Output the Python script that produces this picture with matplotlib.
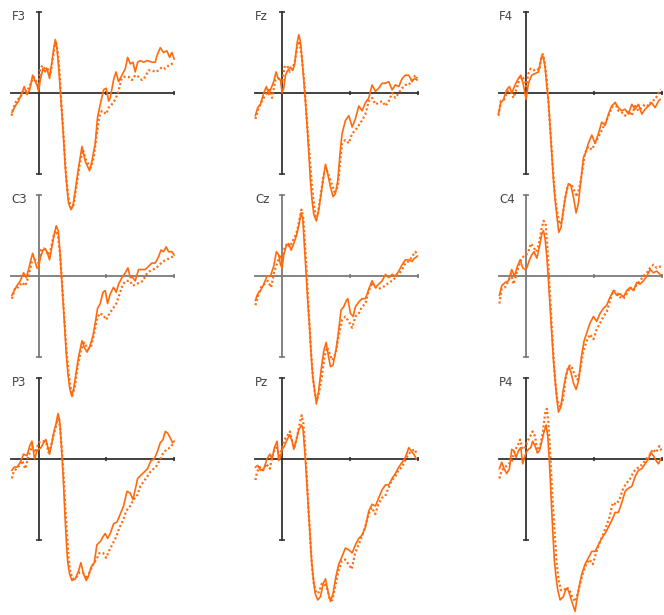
import numpy as np
import matplotlib.pyplot as plt

# ERP traces per channel: (time ms, amplitude uV), solid and dotted condition
f3_solid = [(-197,-1.2),(-172,-0.8),(-148,-0.5),(-123,0.0),(-106,0.4),(-86,-0.1),(-66,0.2),(-44,1.1),(-30,0.8),(-12,0.5),(0,0.1),(12,0.8),(32,1.5),(49,1.3),(62,1.5),(81,0.9),(98,1.9),(111,2.7),(123,3.3),(135,2.8),(148,1.6),(160,0.2),(172,-1.3),(185,-2.9),(197,-4.6),(209,-5.8),(221,-6.8),(239,-7.2),(253,-7.0),(271,-6.0),(295,-4.6),(320,-3.3),(344,-4.2),(376,-4.8),(394,-4.2),(418,-3.1),(435,-1.5),(455,-0.7),(480,0.2),(499,0.3),(517,-0.5),(529,-0.3),(553,0.8),(571,1.3),(590,0.7),(615,1.1),(640,1.5),(657,2.2),(677,1.8),(696,1.9),(713,1.3),(731,1.9),(750,2.0),(775,1.9),(800,2.0),(836,1.9),(861,1.9),(873,2.3),(898,2.8),(922,2.5),(947,2.6),(967,2.2),(984,2.5),(1000,2.1)]
f3_dotted = [(-200,-1.4),(-185,-0.9),(-160,-0.4),(-135,-0.3),(-111,0.2),(-86,0.1),(-62,0.5),(-37,1.0),(-17,0.7),(0,0.4),(12,1.5),(30,1.7),(49,1.4),(66,1.6),(86,1.1),(103,2.0),(118,2.9),(130,3.1),(143,2.4),(155,1.2),(167,-0.5),(180,-2.1),(192,-3.7),(204,-5.2),(219,-6.4),(239,-7.1),(258,-6.9),(278,-5.8),(303,-4.4),(327,-3.5),(352,-4.2),(386,-4.6),(406,-4.0),(430,-2.5),(450,-1.4),(467,-1.1),(499,-1.3),(517,-0.9),(541,-0.7),(566,-0.4),(590,0.1),(608,0.8),(632,1.0),(664,1.0),(689,0.8),(713,1.1),(738,1.0),(763,0.8),(787,1.0),(812,1.4),(836,1.4),(861,1.3),(886,1.4),(910,1.6),(935,1.5),(959,1.7),(984,1.8),(1000,1.9)]

fz_solid = [(-197,-1.4),(-180,-0.9),(-160,-0.7),(-135,0.0),(-116,0.4),(-98,-0.1),(-81,0.3),(-62,0.7),(-44,1.3),(-30,0.9),(-12,0.8),(0,0.0),(12,0.3),(25,1.1),(42,1.4),(62,1.6),(79,1.4),(93,1.8),(111,3.1),(123,3.6),(135,3.2),(148,2.0),(160,0.8),(172,-0.5),(185,-2.1),(197,-3.7),(209,-5.4),(221,-6.6),(234,-7.5),(253,-7.9),(271,-7.2),(295,-5.8),(320,-4.4),(337,-5.0),(357,-5.8),(376,-6.4),(394,-6.2),(411,-5.4),(430,-3.5),(443,-2.5),(467,-1.7),(492,-1.4),(517,-2.1),(541,-1.6),(566,-0.8),(590,-1.1),(615,-0.6),(640,-0.3),(664,0.5),(689,0.1),(713,0.3),(738,0.6),(763,0.6),(787,0.7),(812,0.2),(836,0.5),(861,0.4),(886,0.9),(910,1.1),(935,1.1),(959,0.7),(977,0.9),(996,0.8)]
fz_dotted = [(-197,-1.6),(-172,-0.9),(-148,-0.5),(-123,-0.1),(-98,0.2),(-74,-0.3),(-49,0.8),(-25,0.9),(0,0.6),(17,1.6),(37,1.7),(57,1.3),(74,1.5),(93,1.9),(111,2.8),(128,3.2),(143,2.4),(160,1.0),(175,-0.7),(189,-2.3),(204,-4.0),(219,-5.6),(234,-6.8),(248,-7.6),(263,-7.5),(283,-6.4),(308,-5.0),(332,-4.8),(357,-5.4),(386,-6.1),(411,-5.8),(430,-4.1),(443,-3.1),(467,-2.9),(492,-3.1),(517,-2.5),(541,-2.3),(566,-2.0),(590,-1.7),(615,-1.3),(640,-0.5),(664,-0.3),(689,-0.7),(713,-0.6),(738,-0.5),(763,-0.8),(787,-0.5),(812,0.0),(836,-0.3),(861,0.0),(886,0.3),(910,0.5),(935,0.5),(959,0.8),(984,1.1),(996,0.9)]

f4_solid = [(-204,-1.3),(-187,-0.6),(-167,-0.4),(-143,0.2),(-123,0.4),(-106,0.0),(-81,0.5),(-57,0.9),(-39,1.1),(-20,0.5),(0,-0.4),(17,0.6),(42,1.1),(66,1.2),(91,1.3),(103,1.8),(116,2.3),(128,2.2),(140,1.6),(153,0.4),(165,-0.5),(177,-2.1),(189,-3.7),(202,-5.4),(214,-6.6),(226,-7.5),(241,-8.6),(258,-8.3),(275,-7.2),(295,-6.2),(312,-5.6),(330,-5.7),(349,-6.4),(369,-7.4),(386,-6.8),(399,-5.8),(423,-4.0),(443,-3.6),(460,-3.1),(485,-2.6),(509,-3.1),(534,-2.5),(558,-1.8),(583,-2.0),(608,-1.3),(632,-0.8),(657,-0.6),(681,-0.9),(706,-1.1),(731,-1.0),(755,-1.3),(780,-0.7),(804,-1.0),(829,-0.7),(854,-1.3),(878,-1.0),(903,-0.8),(927,-0.6),(952,-0.9),(977,-0.5),(989,-0.4)]
f4_dotted = [(-204,-1.4),(-187,-0.5),(-162,-0.4),(-138,0.1),(-113,0.1),(-93,-0.3),(-69,0.3),(-44,1.0),(-20,0.9),(0,0.4),(17,1.2),(34,1.5),(54,1.4),(79,1.5),(98,1.4),(111,2.1),(123,2.4),(135,2.0),(153,0.8),(167,-0.9),(182,-2.7),(197,-4.6),(212,-6.2),(226,-7.2),(246,-8.1),(266,-7.9),(285,-6.6),(305,-5.8),(325,-5.6),(344,-5.8),(374,-6.4),(394,-5.8),(411,-5.0),(435,-3.7),(460,-3.3),(485,-3.5),(509,-3.1),(534,-2.7),(558,-2.3),(583,-1.9),(608,-1.4),(632,-0.9),(657,-0.6),(681,-1.1),(706,-1.2),(731,-1.4),(755,-1.1),(780,-1.4),(804,-0.8),(829,-1.1),(854,-0.9),(878,-0.7),(903,-0.8),(927,-0.5),(952,-0.4),(977,0.0),(994,0.2)]

c3_solid = [(-197,-1.2),(-180,-0.9),(-160,-0.6),(-135,-0.3),(-111,0.2),(-91,-0.1),(-74,0.4),(-57,1.0),(-44,1.4),(-30,1.0),(-12,0.5),(0,0.5),(12,1.1),(32,1.6),(49,1.7),(66,1.4),(81,1.0),(98,1.8),(116,2.6),(130,3.1),(145,2.8),(155,1.8),(167,0.2),(180,-1.5),(192,-3.1),(204,-4.8),(216,-6.0),(229,-6.9),(244,-7.4),(258,-7.0),(276,-6.0),(295,-5.0),(320,-4.0),(337,-4.4),(357,-4.7),(376,-4.4),(401,-3.7),(418,-2.9),(435,-2.0),(455,-1.7),(475,-1.0),(492,-0.9),(509,-1.7),(529,-1.1),(553,-0.7),(573,-1.0),(590,-0.5),(615,-0.1),(640,0.2),(659,0.5),(677,-0.1),(696,-0.1),(713,-0.3),(738,0.4),(763,0.4),(787,0.4),(812,0.6),(836,0.8),(861,0.8),(886,1.2),(903,1.6),(922,1.5),(942,1.8),(959,1.5),(984,1.5),(1000,1.3)]
c3_dotted = [(-197,-1.4),(-172,-0.7),(-148,-0.7),(-123,-0.4),(-98,-0.6),(-74,0.0),(-49,0.9),(-25,1.0),(0,0.8),(17,1.6),(37,1.7),(57,1.5),(74,1.3),(91,1.7),(111,2.5),(128,2.8),(143,2.5),(160,1.2),(175,-0.7),(189,-2.5),(204,-4.4),(219,-5.8),(234,-6.8),(248,-7.4),(268,-6.8),(288,-5.6),(312,-4.6),(337,-4.1),(362,-4.5),(386,-4.4),(411,-3.5),(430,-2.7),(450,-2.3),(475,-2.4),(499,-2.7),(524,-2.3),(549,-2.0),(573,-1.7),(598,-1.1),(622,-0.5),(647,-0.3),(672,-0.3),(696,-0.6),(721,-0.5),(746,-0.4),(770,-0.3),(795,0.1),(820,0.3),(844,0.4),(869,0.5),(893,0.7),(918,0.9),(942,1.0),(967,1.1),(991,1.2)]

cz_solid = [(-197,-1.5),(-180,-1.1),(-160,-0.9),(-135,-0.5),(-111,0.0),(-86,0.0),(-62,0.6),(-42,1.5),(-25,1.3),(-12,0.7),(0,0.5),(12,1.3),(32,1.9),(49,2.0),(66,1.6),(86,2.0),(106,2.5),(123,3.1),(140,3.9),(153,3.5),(165,1.8),(177,0.2),(189,-1.5),(202,-3.1),(214,-4.8),(226,-6.2),(239,-7.0),(253,-7.9),(268,-7.2),(288,-5.8),(308,-4.6),(325,-4.1),(339,-4.8),(357,-5.6),(376,-5.5),(401,-4.4),(418,-3.3),(435,-2.1),(455,-1.9),(475,-1.5),(485,-1.4),(504,-2.3),(524,-2.5),(541,-1.9),(566,-1.6),(590,-1.4),(615,-1.4),(640,-0.8),(664,-0.3),(689,-0.7),(713,-0.5),(738,-0.3),(763,0.1),(787,-0.1),(812,0.1),(836,0.0),(861,0.3),(886,0.7),(910,1.0),(935,1.0),(959,0.9),(977,1.1),(996,1.2)]
cz_dotted = [(-197,-1.8),(-180,-1.3),(-155,-0.7),(-130,-0.5),(-106,-0.3),(-81,-0.7),(-57,0.3),(-32,0.9),(-12,1.3),(0,1.0),(17,1.7),(37,2.0),(57,1.8),(74,2.1),(93,2.4),(111,2.8),(128,3.5),(143,4.1),(155,3.7),(167,2.2),(180,0.4),(192,-1.5),(204,-3.3),(216,-5.0),(229,-6.4),(241,-7.2),(256,-7.7),(273,-7.2),(293,-6.2),(312,-5.0),(332,-4.4),(352,-4.8),(371,-5.2),(394,-4.8),(418,-3.7),(443,-2.7),(467,-2.5),(492,-2.8),(517,-3.2),(541,-2.5),(566,-2.3),(590,-1.9),(615,-1.7),(640,-0.9),(664,-0.4),(689,-0.7),(713,-0.8),(738,-0.7),(763,-0.6),(787,-0.4),(812,-0.3),(836,-0.1),(861,0.1),(886,0.4),(910,0.8),(935,0.9),(959,1.2),(984,1.5),(1000,1.2)]

c4_solid = [(-197,-1.2),(-180,-0.6),(-155,-0.4),(-130,-0.3),(-106,0.4),(-86,0.0),(-64,0.6),(-44,1.0),(-25,0.5),(-7,0.4),(5,0.5),(25,1.0),(42,1.3),(59,1.5),(79,1.1),(98,1.8),(116,2.6),(128,2.8),(140,2.3),(153,1.2),(165,-0.3),(177,-1.9),(189,-3.5),(202,-5.2),(214,-6.4),(226,-7.5),(239,-8.4),(256,-8.1),(275,-7.0),(295,-6.1),(315,-5.6),(330,-5.9),(349,-6.6),(369,-7.0),(389,-6.4),(408,-5.0),(428,-4.0),(448,-3.5),(472,-2.9),(497,-2.5),(521,-2.8),(546,-2.3),(571,-2.0),(595,-1.8),(620,-1.3),(645,-0.9),(669,-1.2),(694,-1.1),(718,-1.3),(743,-0.9),(768,-0.7),(792,-0.9),(817,-0.4),(841,-0.5),(866,-0.3),(891,0.0),(915,0.4),(940,0.2),(964,0.3),(989,0.1)]
c4_dotted = [(-197,-1.7),(-180,-0.8),(-155,-0.7),(-130,-0.3),(-111,0.1),(-93,-0.5),(-69,0.2),(-44,0.9),(-20,1.2),(0,1.3),(17,1.5),(34,2.0),(54,1.8),(74,1.5),(93,1.9),(111,2.8),(128,3.4),(143,3.3),(155,2.0),(167,0.2),(180,-1.7),(192,-3.5),(204,-5.2),(216,-6.6),(231,-7.7),(251,-8.1),(271,-7.7),(290,-6.4),(310,-5.6),(330,-5.5),(354,-6.0),(379,-6.4),(399,-5.8),(423,-4.6),(448,-4.0),(472,-3.6),(497,-3.9),(521,-3.3),(546,-2.9),(571,-2.5),(595,-2.2),(620,-1.5),(645,-0.9),(669,-1.0),(694,-1.3),(718,-1.4),(743,-1.1),(768,-0.7),(792,-0.9),(817,-0.5),(841,-0.3),(866,0.0),(891,0.2),(915,0.5),(940,0.7),(964,0.5),(994,0.6)]

p3_solid = [(-197,-0.7),(-180,-0.5),(-160,-0.5),(-135,-0.2),(-111,0.3),(-86,0.2),(-66,0.8),(-49,1.1),(-30,0.0),(-12,0.5),(0,0.6),(17,0.7),(37,1.0),(54,1.2),(66,0.8),(81,0.3),(98,1.0),(116,1.8),(130,2.2),(143,2.8),(155,2.4),(165,1.2),(175,-0.1),(185,-1.7),(194,-3.4),(204,-5.0),(214,-6.3),(229,-7.1),(246,-7.5),(271,-7.4),(295,-6.9),(312,-6.4),(332,-7.1),(352,-7.5),(369,-7.2),(386,-6.7),(411,-6.4),(430,-5.3),(455,-5.1),(475,-4.8),(492,-4.6),(509,-4.9),(529,-4.6),(553,-4.0),(578,-3.9),(603,-3.4),(627,-2.9),(652,-2.0),(676,-2.1),(696,-2.5),(713,-1.9),(731,-1.2),(755,-1.0),(780,-0.8),(804,-0.6),(829,-0.1),(854,0.0),(878,0.5),(898,1.0),(918,1.2),(935,1.7),(952,1.6),(972,1.3),(989,1.0),(1000,1.1)]
p3_dotted = [(-197,-1.2),(-185,-0.8),(-165,-0.6),(-140,-0.4),(-121,-0.1),(-98,-0.6),(-74,0.2),(-49,0.8),(-25,0.4),(0,1.0),(17,1.1),(37,1.1),(57,1.0),(74,0.4),(91,0.8),(111,1.5),(128,2.0),(143,2.6),(160,1.9),(172,0.5),(185,-1.1),(197,-3.0),(209,-4.6),(221,-6.1),(234,-7.0),(253,-7.4),(278,-7.3),(303,-7.0),(327,-7.0),(352,-7.4),(376,-7.0),(401,-6.5),(426,-6.2),(450,-5.8),(475,-5.8),(499,-6.1),(524,-5.6),(549,-5.2),(573,-4.8),(598,-4.2),(622,-3.8),(647,-3.2),(676,-2.9),(701,-2.5),(726,-2.3),(750,-1.7),(775,-1.4),(800,-1.1),(824,-0.8),(849,-0.6),(873,-0.4),(898,0.0),(922,0.4),(947,0.6),(972,0.7),(996,1.0)]

pz_solid = [(-197,-0.5),(-180,-0.4),(-160,-0.7),(-135,-0.6),(-111,0.0),(-91,0.3),(-74,0.0),(-57,0.7),(-37,1.1),(-25,-0.1),(-12,0.1),(0,0.6),(17,0.8),(37,1.2),(57,1.5),(74,1.1),(86,0.6),(103,1.1),(123,1.8),(143,2.1),(155,1.8),(167,0.5),(180,-1.1),(192,-2.8),(204,-4.4),(216,-6.1),(229,-7.3),(244,-8.3),(263,-8.7),(283,-8.5),(303,-7.7),(320,-7.4),(337,-8.1),(357,-8.8),(376,-8.3),(396,-7.3),(418,-6.5),(443,-6.0),(467,-5.5),(492,-5.6),(517,-5.8),(541,-5.3),(566,-4.9),(590,-4.7),(615,-4.2),(640,-3.2),(664,-2.8),(689,-2.9),(713,-2.4),(738,-1.9),(763,-1.6),(787,-1.6),(812,-1.2),(836,-0.9),(861,-0.5),(886,-0.2),(910,0.1),(935,0.7),(952,0.5),(972,0.3),(991,0.0)]
pz_dotted = [(-197,-1.3),(-185,-0.8),(-165,-0.5),(-140,-0.7),(-116,-0.3),(-91,-0.6),(-66,0.4),(-42,0.7),(-17,0.2),(0,0.7),(17,1.2),(37,1.4),(57,1.7),(74,1.1),(91,0.7),(111,1.4),(130,2.2),(145,2.7),(157,2.2),(170,0.7),(182,-1.1),(194,-3.0),(207,-4.8),(219,-6.5),(234,-7.7),(253,-8.3),(273,-8.2),(293,-7.7),(312,-7.7),(332,-8.0),(352,-8.7),(371,-8.7),(391,-7.9),(416,-6.9),(440,-6.3),(465,-6.2),(490,-6.5),(514,-6.8),(539,-5.8),(564,-5.3),(588,-4.8),(613,-4.2),(638,-3.4),(662,-3.0),(687,-3.4),(711,-2.8),(736,-2.4),(760,-2.3),(785,-1.8),(810,-1.3),(834,-1.1),(859,-0.7),(884,-0.5),(908,-0.1),(933,0.3),(957,0.5),(977,0.6),(996,0.3)]

p4_solid = [(-197,-0.6),(-180,-0.2),(-162,-0.6),(-143,-0.9),(-123,-0.6),(-106,0.6),(-89,0.5),(-74,0.1),(-57,0.5),(-39,0.7),(-25,-0.3),(-12,0.1),(0,0.4),(17,0.6),(34,0.7),(49,1.1),(66,0.8),(84,0.4),(98,0.5),(116,1.1),(133,1.7),(148,2.1),(160,1.4),(170,0.1),(180,-1.5),(189,-3.2),(199,-4.8),(209,-6.3),(221,-7.3),(234,-8.1),(251,-8.7),(275,-8.5),(295,-8.0),(312,-8.1),(330,-8.6),(349,-9.1),(362,-9.4),(374,-8.7),(391,-7.9),(411,-7.1),(435,-6.5),(460,-6.1),(485,-5.7),(509,-5.7),(534,-5.3),(558,-4.9),(583,-4.6),(608,-4.2),(632,-3.8),(657,-3.3),(681,-3.3),(706,-2.7),(731,-2.0),(755,-1.8),(780,-1.7),(804,-1.1),(829,-0.7),(854,-0.6),(878,-0.3),(903,0.0),(920,0.4),(940,0.2),(959,-0.1),(977,-0.3),(994,0.0)]
p4_dotted = [(-197,-1.2),(-180,-0.7),(-155,-0.5),(-130,-0.3),(-106,-0.2),(-86,0.5),(-64,0.8),(-44,1.2),(-25,0.6),(-7,0.7),(10,1.1),(30,1.4),(47,1.7),(66,1.4),(84,0.4),(103,0.8),(123,1.6),(140,2.8),(153,3.1),(165,2.2),(177,0.5),(189,-1.5),(202,-3.4),(214,-5.0),(226,-6.5),(241,-7.5),(258,-8.1),(280,-8.1),(300,-7.9),(320,-8.1),(339,-8.5),(362,-8.8),(381,-8.3),(399,-7.7),(418,-7.1),(443,-6.5),(467,-6.2),(492,-6.5),(517,-5.8),(541,-5.2),(566,-4.7),(590,-4.2),(615,-3.6),(640,-2.7),(664,-2.8),(689,-2.5),(713,-1.9),(738,-1.5),(763,-1.3),(787,-0.9),(812,-0.6),(836,-0.5),(861,-0.3),(886,0.0),(910,0.2),(935,0.6),(959,0.4),(984,0.8),(1000,0.5)]

channels = [['F3', 'Fz', 'F4'], ['C3', 'Cz', 'C4'], ['P3', 'Pz', 'P4']]
traces = {
    'F3': (f3_solid, f3_dotted), 'Fz': (fz_solid, fz_dotted), 'F4': (f4_solid, f4_dotted),
    'C3': (c3_solid, c3_dotted), 'Cz': (cz_solid, cz_dotted), 'C4': (c4_solid, c4_dotted),
    'P3': (p3_solid, p3_dotted), 'Pz': (pz_solid, pz_dotted), 'P4': (p4_solid, p4_dotted),
}

W, H = 664, 615
orange = '#ff6a0d'
col_left = [11.5, 255, 499]     # pixel x of t=-200
row_zero = [93, 276, 459]       # pixel y of 0 uV
px_ms = 0.1355
px_uv = 16.2
xlim = (-230, 1030)
ylim = (-10, 5.8)

fig = plt.figure(figsize=(W / 100, H / 100), dpi=100)

for r, row in enumerate(channels):
    axis_col = '#7a7a7a' if r == 1 else '#333333'
    for c, name in enumerate(row):
        left_px = col_left[c] + (xlim[0] + 200) * px_ms
        w_px = (xlim[1] - xlim[0]) * px_ms
        top_px = row_zero[r] - ylim[1] * px_uv
        h_px = (ylim[1] - ylim[0]) * px_uv
        ax = fig.add_axes([left_px / W, 1 - (top_px + h_px) / H, w_px / W, h_px / H])
        ax.patch.set_visible(False)
        ax.set_xlim(*xlim)
        ax.set_ylim(*ylim)

        solid, dotted = traces[name]
        st, sv = np.array(solid).T
        dt, dv = np.array(dotted).T
        ax.plot(dt, dv, color=orange, lw=1.6, ls=(0, (0.9, 1.1)), zorder=3)
        ax.plot(st, sv, color=orange, lw=1.2, zorder=4)

        for s in ['top', 'right']:
            ax.spines[s].set_visible(False)
        ax.spines['left'].set_position(('data', 0))
        ax.spines['bottom'].set_position(('data', 0))
        ax.spines['left'].set_bounds(-5, 5)
        ax.spines['bottom'].set_bounds(-200, 1000)
        for s in ['left', 'bottom']:
            ax.spines[s].set_color(axis_col)
            ax.spines[s].set_linewidth(1.3)
            ax.spines[s].set_zorder(2)
        ax.set_yticks([-5, 5])
        ax.set_xticks([500, 1000])
        ax.tick_params(axis='y', direction='inout', length=5, width=1.2,
                       color=axis_col, labelleft=False)
        ax.tick_params(axis='x', direction='inout', length=3.5, width=1.2,
                       color=axis_col, labelbottom=False)
        ax.text(-200, 4.7, name, ha='left', va='center', fontsize=8.5, color='#444444')

fig.savefig('out.png', dpi=100)
